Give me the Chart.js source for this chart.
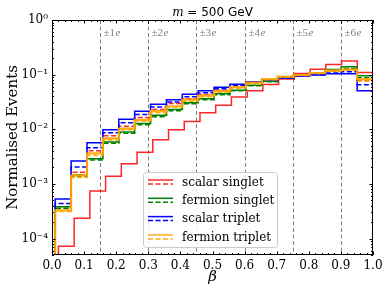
<!DOCTYPE html>
<html>
<head>
<meta charset="utf-8">
<script src="https://cdn.jsdelivr.net/npm/chart.js@4"></script>
<style>
  html, body { margin: 0; padding: 0; background: #fff; }
  #wrap { width: 390px; height: 293px; }
</style>
</head>
<body>
<div id="wrap"><canvas id="histChart"></canvas></div>
<script>
// bin edges (beta) - the solid scalar singlet starts a bit later than the rest
const edgesSingletSolid = [0.02, 0.069, 0.118, 0.167, 0.216, 0.265, 0.314, 0.363, 0.412, 0.461, 0.51,
  0.559, 0.608, 0.657, 0.706, 0.755, 0.804, 0.853, 0.902, 0.951, 1.0];
const edgesCommon = [0.01, 0.0595, 0.109, 0.1585, 0.208, 0.2575, 0.307, 0.3565, 0.406, 0.4555, 0.505,
  0.5545, 0.604, 0.6535, 0.703, 0.7525, 0.802, 0.8515, 0.901, 0.9505, 1.0];

// normalised events per bin
const scalarSingletSolid = [7.2e-5, 2.35e-4, 7.4e-4, 1.38e-3, 2.33e-3, 3.8e-3, 6.4e-3, 9.8e-3, 1.39e-2, 2.0e-2,
  2.75e-2, 3.9e-2, 5.05e-2, 6.6e-2, 8.3e-2, 0.105, 0.126, 0.154, 0.177, 0.11];
const scalarSingletDashed = [3.55e-4, 1.63e-3, 4.03e-3, 7.6e-3, 1.14e-2, 1.64e-2, 2.3e-2, 2.96e-2, 3.63e-2, 4.39e-2,
  5.2e-2, 6.02e-2, 6.98e-2, 7.76e-2, 8.62e-2, 9.59e-2, 0.1043, 0.1159, 0.1236, 0.0793];
const fermionSingletSolid = [3.8e-4, 1.46e-3, 2.9e-3, 5.85e-3, 8.9e-3, 1.27e-2, 1.81e-2, 2.3e-2, 3.06e-2, 3.63e-2,
  4.48e-2, 5.2e-2, 6.42e-2, 7.6e-2, 8.81e-2, 9.8e-2, 0.1066, 0.1236, 0.139, 0.095];
const fermionSingletDashed = [3.6e-4, 1.37e-3, 2.75e-3, 5.53e-3, 8.5e-3, 1.21e-2, 1.69e-2, 2.18e-2, 2.94e-2, 3.48e-2,
  4.3e-2, 5.09e-2, 6.29e-2, 7.44e-2, 8.62e-2, 9.59e-2, 0.1043, 0.121, 0.13, 0.0874];
const scalarTripletSolid = [5.3e-4, 2.64e-3, 5.65e-3, 9.8e-3, 1.53e-2, 2.14e-2, 2.88e-2, 3.48e-2, 4.39e-2, 5.09e-2,
  5.9e-2, 6.7e-2, 7.44e-2, 8.1e-2, 8.81e-2, 9.38e-2, 9.8e-2, 0.1043, 0.1043, 0.0509];
const scalarTripletDashed = [4.4e-4, 2.05e-3, 4.58e-3, 8.6e-3, 1.31e-2, 1.86e-2, 2.57e-2, 3.17e-2, 3.95e-2, 4.68e-2,
  5.53e-2, 6.42e-2, 7.29e-2, 7.93e-2, 8.62e-2, 9.38e-2, 0.1, 0.1066, 0.1135, 0.0656];
const fermionTripletSolid = [3.27e-4, 1.43e-3, 3.63e-3, 6.8e-3, 1.03e-2, 1.49e-2, 2.14e-2, 2.64e-2, 3.48e-2, 4.12e-2,
  4.98e-2, 5.9e-2, 7.13e-2, 8.27e-2, 9.19e-2, 9.8e-2, 0.1066, 0.1184, 0.1236, 0.0827];
const fermionTripletDashed = [3.13e-4, 1.32e-3, 3.33e-3, 6.4e-3, 9.8e-3, 1.4e-2, 2.01e-2, 2.53e-2, 3.27e-2, 3.95e-2,
  4.78e-2, 5.65e-2, 6.84e-2, 8.1e-2, 9.0e-2, 9.8e-2, 0.1066, 0.1184, 0.121, 0.076];

const chargeLines = [0.15, 0.30, 0.45, 0.60, 0.75, 0.90];
const chargeLabels = ['±1', '±2', '±3', '±4', '±5', '±6'];
const yTicks = [1e-4, 1e-3, 1e-2, 1e-1, 1];
const yTickLabels = ['10⁻⁴', '10⁻³', '10⁻²', '10⁻¹', '10⁰'];
const legendNames = ['scalar singlet', 'fermion singlet', 'scalar triplet', 'fermion triplet'];

const RED = 'rgba(255,0,0,0.85)';
const GREEN = '#008000';
const BLUE = '#0000ff';
const ORANGE = 'rgba(255,165,0,0.9)';
const legendColors = [RED, GREEN, BLUE, ORANGE];
const SERIF = '"DejaVu Serif", serif';
const DASH = [5, 2.5];
const FLOOR = 1e-7;

// step-histogram outline: up from the floor, across every bin, back down
function histPoints(edges, vals) {
  const pts = [{ x: edges[0], y: FLOOR }];
  vals.forEach((v, i) => pts.push({ x: edges[i], y: v }));
  pts.push({ x: edges[edges.length - 1], y: FLOOR });
  return pts;
}

function ds(label, edges, vals, color, dashed, width) {
  return {
    label: label,
    data: histPoints(edges, vals),
    borderColor: color,
    borderWidth: width || 1.5,
    borderDash: dashed ? DASH : [],
    stepped: 'before',
    pointRadius: 0,
    fill: false
  };
}

// listed bottom-to-top
const layers = [
  ds('scalar singlet', edgesSingletSolid, scalarSingletSolid, RED, false),
  ds('scalar singlet (dashed)', edgesCommon, scalarSingletDashed, RED, true),
  ds('fermion singlet', edgesCommon, fermionSingletSolid, GREEN, false),
  ds('fermion singlet (dashed)', edgesCommon, fermionSingletDashed, GREEN, true),
  ds('scalar triplet', edgesCommon, scalarTripletSolid, BLUE, false),
  ds('scalar triplet (dashed)', edgesCommon, scalarTripletDashed, BLUE, true),
  ds('fermion triplet', edgesCommon, fermionTripletSolid, ORANGE, false, 2.2),
  ds('fermion triplet (dashed)', edgesCommon, fermionTripletDashed, ORANGE, true, 1.6)
];
layers.forEach((d, i) => { d.order = layers.length - i; });

// dashed charge guides + their labels
const guidePlugin = {
  id: 'guides',
  beforeDatasetsDraw(chart) {
    const { ctx, chartArea: a, scales: { x } } = chart;
    ctx.save();
    ctx.strokeStyle = '#808080';
    ctx.lineWidth = 1;
    ctx.setLineDash([4, 2.5]);
    chargeLines.forEach((b, i) => {
      const px = Math.round(x.getPixelForValue(b)) + 0.5;
      ctx.beginPath();
      ctx.moveTo(px, a.top);
      ctx.lineTo(px, a.bottom);
      ctx.stroke();
      ctx.fillStyle = '#808080';
      ctx.textBaseline = 'middle';
      ctx.font = '11px "Liberation Serif", serif';
      ctx.fillText(chargeLabels[i], px + 3, a.top + 13);
      const w = ctx.measureText(chargeLabels[i]).width;
      ctx.font = 'italic 11px "Liberation Serif", serif';
      ctx.fillText('e', px + 3.5 + w, a.top + 13);
    });
    ctx.restore();
  }
};

// frame, inward ticks, titles, legend
const framePlugin = {
  id: 'frame',
  afterDraw(chart) {
    const { ctx, chartArea: a, scales: { x, y } } = chart;
    ctx.save();
    ctx.strokeStyle = '#000';
    ctx.lineWidth = 1;
    ctx.setLineDash([]);
    ctx.strokeRect(a.left + 0.5, a.top + 0.5, a.right - a.left - 1, a.bottom - a.top - 1);

    ctx.beginPath();
    for (let k = 0; k <= 50; k++) {
      const px = Math.round(x.getPixelForValue(k * 0.02)) + 0.5;
      const len = k % 5 === 0 ? 3.5 : 2;
      ctx.moveTo(px, a.bottom); ctx.lineTo(px, a.bottom - len);
      ctx.moveTo(px, a.top); ctx.lineTo(px, a.top + len);
    }
    for (let e = -5; e <= 0; e++) {
      for (let m = 1; m <= 9; m++) {
        const v = m * Math.pow(10, e);
        if (v < y.min || v > y.max) continue;
        const py = Math.round(y.getPixelForValue(v)) + 0.5;
        const len = m === 1 ? 3.5 : 2;
        ctx.moveTo(a.left, py); ctx.lineTo(a.left + len, py);
        ctx.moveTo(a.right, py); ctx.lineTo(a.right - len, py);
      }
    }
    ctx.stroke();

    // title
    ctx.fillStyle = '#000';
    ctx.textBaseline = 'alphabetic';
    ctx.font = 'italic 12px ' + SERIF;
    const mW = ctx.measureText('m').width;
    ctx.font = '12px "DejaVu Sans", sans-serif';
    const rest = ' = 500 GeV';
    const rW = ctx.measureText(rest).width;
    const tx = (a.left + a.right) / 2 - (mW + rW) / 2;
    ctx.font = 'italic 12px ' + SERIF;
    ctx.fillText('m', tx, 16);
    ctx.font = '12px "DejaVu Sans", sans-serif';
    ctx.fillText(rest, tx + mW, 16);

    // axis titles
    ctx.textAlign = 'center';
    ctx.textBaseline = 'middle';
    ctx.font = 'italic 15px ' + SERIF;
    ctx.fillText('β', (a.left + a.right) / 2, 277);
    ctx.save();
    ctx.translate(13, (a.top + a.bottom) / 2);
    ctx.rotate(-Math.PI / 2);
    ctx.font = '15px ' + SERIF;
    ctx.fillText('Normalised Events', 0, 0);
    ctx.restore();

    // legend
    const bx = 143.5, by = 172.5, bw = 134, bh = 75, r = 3;
    ctx.beginPath();
    ctx.moveTo(bx + r, by);
    ctx.arcTo(bx + bw, by, bx + bw, by + bh, r);
    ctx.arcTo(bx + bw, by + bh, bx, by + bh, r);
    ctx.arcTo(bx, by + bh, bx, by, r);
    ctx.arcTo(bx, by, bx + bw, by, r);
    ctx.closePath();
    ctx.fillStyle = 'rgba(255,255,255,0.85)';
    ctx.fill();
    ctx.strokeStyle = '#cccccc';
    ctx.stroke();

    ctx.textAlign = 'left';
    legendNames.forEach((name, i) => {
      const cy = 182 + i * 18.3;
      ctx.strokeStyle = legendColors[i];
      ctx.lineWidth = 1.5;
      ctx.setLineDash([]);
      ctx.beginPath(); ctx.moveTo(148, cy - 2); ctx.lineTo(173, cy - 2); ctx.stroke();
      ctx.setLineDash(DASH);
      ctx.beginPath(); ctx.moveTo(148, cy + 2); ctx.lineTo(173, cy + 2); ctx.stroke();
      ctx.setLineDash([]);
      ctx.fillStyle = '#000';
      ctx.font = '12px ' + SERIF;
      ctx.fillText(name, 182, cy + 0.5);
    });
    ctx.restore();
  }
};

new Chart(document.getElementById('histChart'), {
  type: 'line',
  data: { datasets: layers },
  options: {
    responsive: true,
    maintainAspectRatio: false,
    animation: false,
    events: [],
    layout: { padding: { top: 20, right: 17, left: 0, bottom: 0 } },
    plugins: { legend: { display: false }, tooltip: { enabled: false } },
    scales: {
      x: {
        type: 'linear',
        min: 0,
        max: 1,
        ticks: {
          stepSize: 0.1,
          autoSkip: false,
          maxRotation: 0,
          padding: 4,
          color: '#000',
          font: { family: SERIF, size: 12 },
          callback: v => v.toFixed(1)
        },
        grid: { display: false, drawTicks: false },
        border: { display: false },
        afterFit: s => { s.height = 38; }
      },
      y: {
        type: 'logarithmic',
        min: 5e-5,
        max: 1,
        afterBuildTicks: s => { s.ticks = yTicks.map(v => ({ value: v })); },
        ticks: {
          padding: 4,
          color: '#000',
          font: { family: SERIF, size: 12 },
          callback: v => yTickLabels[yTicks.indexOf(v)]
        },
        grid: { display: false, drawTicks: false },
        border: { display: false },
        afterFit: s => { s.width = 52; }
      }
    }
  },
  plugins: [guidePlugin, framePlugin]
});
</script>
</body>
</html>
